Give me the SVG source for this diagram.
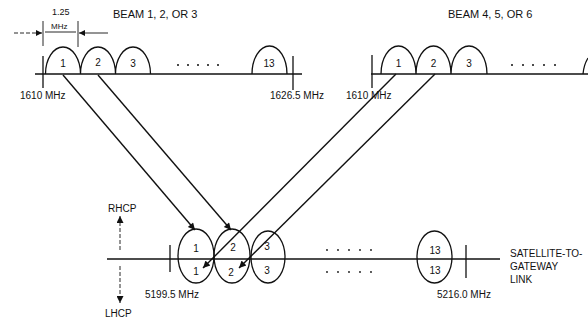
<svg xmlns="http://www.w3.org/2000/svg" width="588" height="324" viewBox="0 0 588 324">
<style>
text{font-family:"Liberation Sans",Arial,sans-serif;fill:#111}
.t{font-size:10px}
.s{font-size:9px}
.b{font-size:11px}
.ln{stroke:#111;stroke-width:1.3;fill:none}
.th{stroke:#111;stroke-width:0.9;fill:none}
.ar{stroke:#111;stroke-width:1.4;fill:none}
.dot{fill:#111}
</style>
<defs>
<marker id="ah" viewBox="0 0 10 10" refX="10" refY="5" markerWidth="8" markerHeight="6" markerUnits="userSpaceOnUse" orient="auto"><path d="M0 0 L10 5 L0 10 Z" fill="#111"/></marker>
<marker id="ah2" viewBox="0 0 10 10" refX="10" refY="5" markerWidth="10" markerHeight="7" markerUnits="userSpaceOnUse" orient="auto"><path d="M0 0 L10 5 L0 10 Z" fill="#111"/></marker>
</defs>

<g id="beam123">
<line class="ln" x1="35" y1="74" x2="302" y2="74"/>
<line class="ln" x1="43" y1="56" x2="43" y2="88"/>
<line class="ln" x1="293" y1="56" x2="293" y2="90"/>
<path class="ln" d="M45.5 74 A17.5 27 0 0 1 80.5 74 A17.5 27 0 0 1 115.5 74 A17.5 27 0 0 1 150.5 74"/>
<path class="ln" d="M252 74 A17.5 28 0 0 1 287 74"/>
<text class="t" x="63" y="67" text-anchor="middle">1</text>
<text class="t" x="98" y="66" text-anchor="middle">2</text>
<text class="t" x="133" y="67" text-anchor="middle">3</text>
<text class="t" x="269" y="67" text-anchor="middle">13</text>
<circle class="dot" cx="178" cy="65" r="1"/><circle class="dot" cx="188" cy="65" r="1"/><circle class="dot" cx="198" cy="65" r="1"/><circle class="dot" cx="208" cy="65" r="1"/><circle class="dot" cx="218" cy="65" r="1"/>
<text class="b" x="113" y="18">BEAM 1, 2, OR 3</text>
<text class="t" x="20" y="99">1610 MHz</text>
<text class="t" x="270" y="99">1626.5 MHz</text>
</g>

<g id="spacing">
<line class="th" x1="43" y1="21" x2="43" y2="46"/>
<line class="th" x1="78" y1="21" x2="78" y2="47"/>
<line class="th" x1="45" y1="32" x2="76" y2="32"/>
<text class="s" x="52" y="15">1.25</text>
<text class="s" x="51" y="29" style="font-size:8px">MHz</text>
<line class="th" x1="14" y1="33" x2="42" y2="33" stroke-dasharray="4 2" marker-end="url(#ah)"/>
<line class="th" x1="108" y1="33" x2="79" y2="33" marker-end="url(#ah)"/>
</g>

<g id="beam456">
<line class="ln" x1="371" y1="74" x2="588" y2="74"/>
<line class="ln" x1="372" y1="55" x2="372" y2="88"/>
<path class="ln" d="M381 74 A17.5 28 0 0 1 416 74 A17.5 28 0 0 1 451 74 A18 28 0 0 1 487 74"/>
<path class="ln" d="M583 74 A17.5 28 0 0 1 588 58"/>
<text class="t" x="398.5" y="67" text-anchor="middle">1</text>
<text class="t" x="433.5" y="67" text-anchor="middle">2</text>
<text class="t" x="469" y="67" text-anchor="middle">3</text>
<circle class="dot" cx="512" cy="65" r="1"/><circle class="dot" cx="523" cy="65" r="1"/><circle class="dot" cx="533" cy="65" r="1"/><circle class="dot" cx="544" cy="65" r="1"/><circle class="dot" cx="555" cy="65" r="1"/>
<text class="b" x="448" y="18">BEAM 4, 5, OR 6</text>
<text class="t" x="346" y="99">1610 MHz</text>
</g>

<g id="gateway">
<line class="ln" x1="107" y1="259" x2="500" y2="259" style="stroke-width:1.6"/>
<line class="ln" x1="170" y1="245" x2="170" y2="272"/>
<line class="ln" x1="466" y1="245" x2="466" y2="278"/>
<ellipse class="ln" cx="196" cy="256" rx="18" ry="27"/>
<ellipse class="ln" cx="232" cy="256" rx="18" ry="27"/>
<ellipse class="ln" cx="268" cy="257" rx="17" ry="26"/>
<ellipse class="ln" cx="434.5" cy="257" rx="17.5" ry="26"/>
<text class="t" x="196" y="252" text-anchor="middle">1</text>
<text class="t" x="196" y="275" text-anchor="middle">1</text>
<text class="t" x="233" y="251" text-anchor="middle">2</text>
<text class="t" x="231" y="276" text-anchor="middle">2</text>
<text class="t" x="267" y="250" text-anchor="middle">3</text>
<text class="t" x="267" y="274" text-anchor="middle">3</text>
<text class="t" x="435" y="254" text-anchor="middle">13</text>
<text class="t" x="435" y="274" text-anchor="middle">13</text>
<circle class="dot" cx="327" cy="250" r="0.9"/><circle class="dot" cx="338" cy="250" r="0.9"/><circle class="dot" cx="349" cy="250" r="0.9"/><circle class="dot" cx="360" cy="250" r="0.9"/><circle class="dot" cx="371" cy="250" r="0.9"/>
<circle class="dot" cx="327" cy="272" r="0.9"/><circle class="dot" cx="338" cy="272" r="0.9"/><circle class="dot" cx="349" cy="272" r="0.9"/><circle class="dot" cx="360" cy="272" r="0.9"/><circle class="dot" cx="371" cy="272" r="0.9"/>
<text class="t" x="145" y="298">5199.5 MHz</text>
<text class="t" x="437" y="298">5216.0 MHz</text>
<text class="t" x="510" y="257">SATELLITE-TO-</text>
<text class="t" x="510" y="270">GATEWAY</text>
<text class="t" x="510" y="283">LINK</text>
</g>

<g id="polarization">
<text class="t" x="108" y="212">RHCP</text>
<text class="t" x="105" y="317">LHCP</text>
<line class="th" x1="120" y1="250" x2="120" y2="216" stroke-dasharray="4 2" marker-end="url(#ah2)"/>
<line class="th" x1="120" y1="266" x2="120" y2="303" stroke-dasharray="4 2" marker-end="url(#ah2)"/>
</g>

<g id="connectors">
<line class="ar" x1="63" y1="75" x2="195" y2="230" marker-end="url(#ah2)"/>
<line class="ar" x1="98" y1="75" x2="231" y2="230" marker-end="url(#ah2)"/>
<line class="ar" x1="396" y1="74" x2="203" y2="268" marker-end="url(#ah2)"/>
<line class="ar" x1="435" y1="74" x2="239" y2="268" marker-end="url(#ah2)"/>
</g>
</svg>
